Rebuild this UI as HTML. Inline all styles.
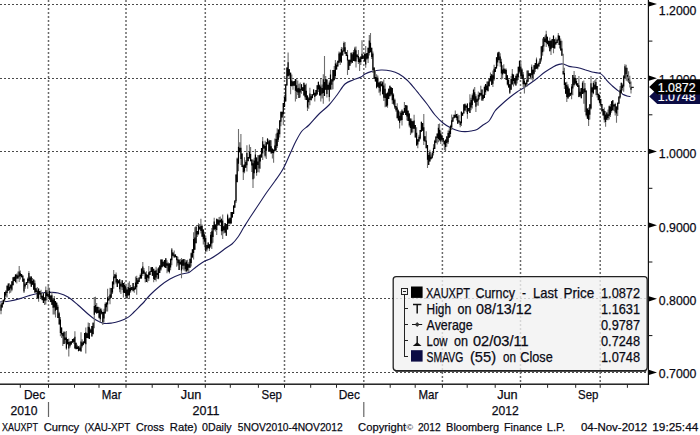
<!DOCTYPE html>
<html><head><meta charset="utf-8"><title>XAUXPT Curncy</title>
<style>html,body{margin:0;padding:0;background:#fff}body{width:700px;height:435px;overflow:hidden;position:relative;font-family:"Liberation Sans",sans-serif}</style></head>
<body>
<svg width="700" height="435" viewBox="0 0 700 435" style="position:absolute;left:0;top:0">
<rect width="700" height="435" fill="#fff"/>
<g stroke="#4a4a4a" stroke-width="1" stroke-dasharray="2 2" shape-rendering="crispEdges">
<line x1="0" y1="4" x2="648.4" y2="4"/>
<line x1="0" y1="78.2" x2="648.4" y2="78.2"/>
<line x1="0" y1="151.4" x2="648.4" y2="151.4"/>
<line x1="0" y1="225.2" x2="648.4" y2="225.2"/>
<line x1="0" y1="298.8" x2="648.4" y2="298.8"/>
<line x1="0" y1="372.4" x2="648.4" y2="372.4"/>
</g>
<g stroke="#6a6a6a" stroke-width="1.5" stroke-dasharray="2 2">
<line x1="48.5" y1="0" x2="48.5" y2="384.2"/>
<line x1="126" y1="0" x2="126" y2="384.2"/>
<line x1="205.3" y1="0" x2="205.3" y2="384.2"/>
<line x1="284.5" y1="0" x2="284.5" y2="384.2"/>
<line x1="363.8" y1="0" x2="363.8" y2="384.2"/>
<line x1="442.4" y1="0" x2="442.4" y2="384.2"/>
<line x1="520.5" y1="0" x2="520.5" y2="384.2"/>
<line x1="600.2" y1="0" x2="600.2" y2="384.2"/>
</g>
<path d="M0.0 302.0C1.7 301.8 6.7 301.6 10.0 301.0C13.3 300.4 16.7 299.5 20.0 298.6C23.3 297.7 26.7 296.3 30.0 295.4C33.3 294.5 36.7 293.5 40.0 293.0C43.3 292.5 47.0 292.4 50.0 292.4C53.0 292.4 55.0 292.2 58.0 293.0C61.0 293.8 64.7 295.0 68.0 297.0C71.3 299.0 74.7 302.2 78.0 305.0C81.3 307.8 85.0 311.5 88.0 314.0C91.0 316.5 93.3 318.4 96.0 320.0C98.7 321.6 101.3 322.9 104.0 323.4C106.7 323.9 109.3 323.4 112.0 323.0C114.7 322.6 117.3 321.9 120.0 321.0C122.7 320.1 125.7 318.9 128.0 317.4C130.3 315.9 132.0 313.9 134.0 312.0C136.0 310.1 138.3 307.7 140.0 306.0C141.7 304.3 142.3 303.8 144.0 302.0C145.7 300.2 147.3 297.7 150.0 295.0C152.7 292.3 156.7 288.7 160.0 286.0C163.3 283.3 166.7 280.9 170.0 279.0C173.3 277.1 176.8 275.5 180.0 274.4C183.2 273.3 186.3 273.6 189.0 272.4C191.7 271.2 193.5 268.8 196.0 267.0C198.5 265.2 201.7 262.7 204.0 261.4C206.3 260.1 207.7 260.2 210.0 259.0C212.3 257.8 215.3 255.8 218.0 254.0C220.7 252.2 223.7 249.7 226.0 248.0C228.3 246.3 230.0 245.8 232.0 244.0C234.0 242.2 236.0 239.8 238.0 237.0C240.0 234.2 241.8 230.5 244.0 227.0C246.2 223.5 248.5 219.8 251.0 216.0C253.5 212.2 256.3 208.0 259.0 204.0C261.7 200.0 264.3 195.8 267.0 192.0C269.7 188.2 272.3 184.8 275.0 181.0C277.7 177.2 280.5 173.5 283.0 169.0C285.5 164.5 287.8 158.7 290.0 154.0C292.2 149.3 294.0 144.8 296.0 141.0C298.0 137.2 299.8 133.7 302.0 131.0C304.2 128.3 306.2 127.8 309.0 125.0C311.8 122.2 315.7 117.3 319.0 114.0C322.3 110.7 326.0 108.2 329.0 105.0C332.0 101.8 334.3 98.5 337.0 95.0C339.7 91.5 342.3 86.5 345.0 84.0C347.7 81.5 350.3 81.2 353.0 80.0C355.7 78.8 359.0 78.0 361.0 77.0C363.0 76.0 363.3 74.9 365.0 74.0C366.7 73.1 368.3 72.3 371.0 71.6C373.7 70.9 377.7 70.1 381.0 70.0C384.3 69.9 388.0 70.3 391.0 71.0C394.0 71.7 396.3 72.5 399.0 74.0C401.7 75.5 404.3 77.5 407.0 80.0C409.7 82.5 413.0 86.7 415.0 89.0C417.0 91.3 417.0 91.5 419.0 94.0C421.0 96.5 424.3 100.5 427.0 104.0C429.7 107.5 432.3 111.8 435.0 115.0C437.7 118.2 440.3 120.8 443.0 123.0C445.7 125.2 448.3 126.7 451.0 128.0C453.7 129.3 456.7 130.4 459.0 131.0C461.3 131.6 463.0 131.6 465.0 131.6C467.0 131.6 469.0 131.4 471.0 131.0C473.0 130.6 475.0 130.4 477.0 129.4C479.0 128.4 481.0 126.4 483.0 125.0C485.0 123.6 487.0 123.3 489.0 121.0C491.0 118.7 493.0 113.7 495.0 111.0C497.0 108.3 498.7 107.2 501.0 105.0C503.3 102.8 506.3 100.2 509.0 98.0C511.7 95.8 514.3 93.8 517.0 92.0C519.7 90.2 522.0 89.0 525.0 87.0C528.0 85.0 531.7 82.5 535.0 80.0C538.3 77.5 542.0 74.2 545.0 72.0C548.0 69.8 550.7 68.3 553.0 67.0C555.3 65.7 557.3 64.9 559.0 64.4C560.7 63.9 561.3 63.7 563.0 64.0C564.7 64.3 566.7 65.8 569.0 66.4C571.3 67.0 574.3 66.9 577.0 67.5C579.7 68.1 582.5 69.0 585.0 69.8C587.5 70.5 589.8 71.5 592.0 72.0C594.2 72.5 596.6 72.7 598.0 73.0C599.4 73.3 599.5 73.0 600.5 73.6C601.5 74.2 602.7 75.3 603.8 76.5C604.9 77.7 605.8 79.3 607.2 80.9C608.6 82.5 610.7 84.4 612.4 86.0C614.1 87.6 615.9 88.9 617.6 90.3C619.3 91.7 621.2 93.3 622.8 94.3C624.4 95.2 625.7 95.6 627.0 96.0C628.3 96.4 629.9 96.4 630.5 96.5" fill="none" stroke="#1c1c58" stroke-width="1.1" stroke-linejoin="round"/>
<path d="M1 303V314.2M2.2 300.5V307.4M3.4 299.7V304.3M4.6 292V301.9M5.8 290.2V297.3M7.1 284.9V297.5M8.3 283.5V290.8M9.5 283.3V293.5M10.7 284.5V292.8M11.9 281.2V291.2M13.1 277.2V285.2M14.3 276.7V280.9M15.5 274.3V282.4M16.8 273.5V283.4M18 271.5V278.6M19.2 266V281.9M20.4 270.6V279.5M21.6 274V277.3M22.8 275.6V281.8M24 277.9V293M25.2 282.8V288.8M26.4 282.1V284.9M27.7 277.6V288.7M28.9 270.9V283M30.1 276V284.3M31.3 276.4V286.8M32.5 278V284.7M33.7 279.4V289.8M34.9 280.4V292.9M36.1 288.2V292.4M37.3 287.1V298.9M38.6 288.6V301.7M39.8 291V294.6M41 289.7V297.7M42.2 295.7V300.6M43.4 292V302.9M44.6 296.9V304.9M45.8 286.4V304.5M47 290V300.3M48.2 284V297M49.5 287.8V299.8M50.7 295.5V302.2M51.9 292.1V304.9M53.1 299.1V314.4M54.3 296.1V314.6M55.5 300.9V317.5M56.7 302V310.1M57.9 304.7V317.9M59.2 311.8V324.5M60.4 317.1V336.3M61.6 327.5V338M62.8 333.1V345.9M64 331.6V344.1M65.2 331.8V343.5M66.4 330.9V349.8M67.6 339V344.2M68.8 338.4V356.4M70.1 341.4V347.5M71.3 341.2V345M72.5 339V342.9M73.7 338.5V343.7M74.9 331.2V348.4M76.1 342.8V349.2M77.3 344.7V349.1M78.5 346.2V351.4M79.8 345.6V351.1M81 332.2V351.5M82.2 339.2V347.4M83.4 340.9V345.3M84.6 333.1V343.2M85.8 327.5V353.5M87 333.2V338.1M88.2 322.5V338.3M89.4 323V339M90.7 328.5V332.8M91.9 326.1V336.6M93.1 322.6V334.6M94.3 297V328.3M95.5 296.8V312.6M96.7 302.9V313.5M97.9 306.5V313M99.1 307V318.4M100.3 307.8V322.6M101.6 308.6V314.5M102.8 312.1V325M104 308.8V322.1M105.2 302.4V313.6M106.4 302.4V311.5M107.6 288.7V311.4M108.8 296V300.6M110 287.8V304.3M111.2 288V297.7M112.5 281.6V293.9M113.7 270V288.7M114.9 274.3V278.6M116.1 272.6V284.2M117.3 278.9V287.1M118.5 280.1V283.5M119.7 279.2V292.3M120.9 282.3V294.1M122.2 280.2V289.9M123.4 282.9V297.4M124.6 282V293.1M125.8 286.2V297.4M127 289.5V298.6M128.2 282.8V295.4M129.4 281.2V298.3M130.6 284.9V292.8M131.8 286.9V289.9M133.1 282.9V291.2M134.3 286V292.8M135.5 276.5V289.7M136.7 275.7V294.8M137.9 278.3V284.1M139.1 277.4V281.9M140.3 273.5V278.8M141.5 268.6V278.6M142.8 262V276M144 268.1V274M145.2 272.5V282.6M146.4 271.3V282.1M147.6 274.8V282.5M148.8 266V281M150 271.2V275M151.2 267.3V272.1M152.4 266.9V276.1M153.7 268.8V282.3M154.9 270.8V280.1M156.1 266.8V281.6M157.3 268.4V278.9M158.5 267V279.3M159.7 265.5V273.1M160.9 259.5V270.7M162.1 259.6V267.3M163.3 260.7V266.3M164.6 260.1V267.2M165.8 258.2V267.9M167 260.3V273.3M168.2 262.2V271.4M169.4 262.9V273.5M170.6 258.8V270.2M171.8 248.1V265.3M173 252.5V256.3M174.2 250.4V257.4M175.5 254.4V257.2M176.7 256.1V266.8M177.9 256.8V265.5M179.1 259.5V269.9M180.3 259.1V264.6M181.5 258V278.2M182.7 259.5V269.2M183.9 259V270.5M185.2 259.6V271.5M186.4 259.9V271.6M187.6 259.7V271.6M188.8 262.3V271.9M190 258.8V267.8M191.2 252.6V266.5M192.4 249.3V257.9M193.6 232.2V259.5M194.8 227.3V249.7M196.1 226.6V243.2M197.3 230.9V236.9M198.5 223.3V235.3M199.7 224V229.6M200.9 218.7V233.4M202.1 224.5V236.7M203.3 229.4V244.4M204.5 231.8V247.5M205.7 235.4V251.4M207 245V251.5M208.2 242.5V248.5M209.4 244.3V250.9M210.6 232.1V247.7M211.8 228.1V248.9M213 225V242.8M214.2 217.7V230.3M215.4 224.6V231.5M216.7 218.7V235M217.9 219.4V224.8M219.1 217V225.6M220.3 216.6V222.6M221.5 218.8V235.2M222.7 214.4V239.1M223.9 226.3V233.5M225.1 222.9V233.1M226.3 224V235.7M227.6 213.8V229.5M228.8 217.8V223.6M230 217.3V224.6M231.2 212.1V223.5M232.4 211.9V217.5M233.6 205.5V214.1M234.8 200.4V207.8M236 174.5V203M237.2 157.6V182.5M238.5 129V171.2M239.7 142.3V152.3M240.9 134V165M242.1 153.6V167M243.3 164.6V180M244.5 157.2V173.3M245.7 160.3V167.8M246.9 145.2V171.5M248.2 156.9V161.6M249.4 144.5V158.6M250.6 147.1V161.3M251.8 159.5V172.1M253 159.5V188M254.2 157.8V178.4M255.4 149V169.2M256.6 157.6V175.7M257.8 154.9V171.9M259.1 155.3V172.6M260.3 154.6V168.7M261.5 147.9V157.4M262.7 137V159.9M263.9 144.5V148.4M265.1 140.7V157.4M266.3 142.2V159.1M267.5 138V144.3M268.8 139.4V150.9M270 139.9V151.7M271.2 140.3V153.4M272.4 148V158.5M273.6 149.3V162.8M274.8 138.4V151.2M276 133.7V150.6M277.2 128.2V148M278.4 129.4V141.9M279.7 120V137.5M280.9 111.7V126.2M282.1 111.7V117.5M283.3 103.1V125M284.5 94.7V106.9M285.7 84.2V101.5M286.9 67.6V85.5M288.1 52.6V76.3M289.3 69.1V78.5M290.6 72.6V94.3M291.8 74.5V86.3M293 81.6V89.7M294.2 80.9V85.8M295.4 79V101.5M296.6 79.2V99.1M297.8 80.6V95.1M299 83.8V98.1M300.2 82.4V97.6M301.5 84.3V93.7M302.7 87.3V91.1M303.9 82.8V95.4M305.1 84.8V99.7M306.3 83.4V100M307.5 95.6V111M308.7 96.9V108.7M309.9 87.7V105.3M311.2 93.9V100.3M312.4 94.2V98.6M313.6 89.1V95.3M314.8 92.7V101.6M316 90.1V95.7M317.2 85.2V94.4M318.4 81.7V92M319.6 84.6V95.6M320.8 79.1V101.6M322.1 84.4V98.6M323.3 74.3V103.8M324.5 56V95.9M325.7 75.9V89.7M326.9 79.6V97.4M328.1 84.8V89.7M329.3 80.5V101.5M330.5 69.8V89.4M331.8 79.2V89.7M333 69.9V89.3M334.2 66V80.2M335.4 60.1V78.9M336.6 62.5V69.7M337.8 60.8V66.5M339 51.5V62.7M340.2 52.4V64.9M341.4 46.9V63M342.7 47.5V55.4M343.9 41.4V51.4M345.1 42V53.8M346.3 52V55.9M347.5 49.9V75M348.7 59.7V70.1M349.9 59.8V65.8M351.1 52.7V64M352.3 52.2V63.1M353.6 49.9V61.1M354.8 46.8V61.2M356 46.4V67.6M357.2 54.6V58.6M358.4 50V63.9M359.6 57.1V71M360.8 56.5V65.1M362 40.2V58.9M363.2 55.6V59.3M364.5 53.8V61.7M365.7 45.9V67.8M366.9 53.1V59.7M368.1 47.2V63.1M369.3 34.9V55.4M370.5 33V52.3M371.7 47.8V59.1M372.9 51.5V73M374.2 67.4V78.7M375.4 69.9V81.6M376.6 74.3V88.5M377.8 75.5V86.8M379 82.6V92.7M380.2 81.6V95.5M381.4 80.9V86.3M382.6 81.2V94.2M383.8 79.5V101.1M385.1 83.6V107.2M386.3 93.6V106.5M387.5 91.7V107.7M388.7 88.3V99M389.9 85.7V96.3M391.1 87.2V95.8M392.3 88V104M393.5 93.3V105.3M394.8 98.6V109M396 106.1V111.7M397.2 103.3V118.2M398.4 109.4V121M399.6 111.4V128.5M400.8 111.2V120.5M402 109.3V125.5M403.2 111.6V115M404.4 102V112.7M405.7 105.1V115.1M406.9 105.4V120.5M408.1 110.5V121.1M409.3 113.6V127.2M410.5 118.1V135M411.7 118.6V133.4M412.9 121.2V132.6M414.1 114.7V128.7M415.3 124.9V137.5M416.6 127.2V145.9M417.8 139.3V148.3M419 134.8V141.6M420.2 129.9V139.4M421.4 121.8V131.7M422.6 123V130.8M423.8 114V145M425 136.3V141.4M426.2 131.2V148.3M427.5 144.9V168M428.7 152.8V165.1M429.9 149.7V161.6M431.1 154.5V159.3M432.3 152.4V158.4M433.5 144.3V155.5M434.7 139.8V148.9M435.9 136.5V142.8M437.2 133.5V144.6M438.4 123.9V142.2M439.6 123.5V141.3M440.8 130.5V144.1M442 134.7V140.7M443.2 137.9V144.2M444.4 140.7V150.2M445.6 139.3V151M446.8 136.1V146.7M448.1 130.5V144M449.3 128.2V137.8M450.5 124.8V136.9M451.7 114.5V130.1M452.9 117.2V121.8M454.1 114.8V118.2M455.3 110.4V117.4M456.5 114.1V120.5M457.7 113.8V123.8M459 115.1V123.3M460.2 121.5V127.2M461.4 110.9V126M462.6 112.8V115.7M463.8 103.9V113.5M465 103.7V110.7M466.2 105.6V112.3M467.4 103.6V118.8M468.7 107.9V111.4M469.9 94.3V112.9M471.1 97.8V110.2M472.3 93.6V108.4M473.5 88.8V101M474.7 87.1V102.4M475.9 94.2V112M477.1 98.2V105.4M478.3 91.6V105.7M479.6 92.7V99.6M480.8 85.8V95.5M482 89.6V100.7M483.2 94.8V100.8M484.4 85.6V97.9M485.6 83.9V94.9M486.8 81.4V90.2M488 81.4V91.3M489.2 78.5V86.7M490.5 72.6V81.7M491.7 74.2V85.1M492.9 70.6V86.9M494.1 64.8V80.7M495.3 67V72M496.5 57.3V68.5M497.7 52.1V66.2M498.9 51.5V60.6M500.2 53.2V66.7M501.4 58.8V79.6M502.6 65.3V78.7M503.8 64.2V73.5M505 68.6V73.8M506.2 68.4V80M507.4 75.2V85.6M508.6 79V87.9M509.8 84.3V94M511.1 76.1V89.8M512.3 69.1V84.8M513.5 74.4V86.6M514.7 78V84.6M515.9 74.5V85.4M517.1 72.9V83.4M518.3 66.8V80.1M519.5 60.7V73.3M520.8 60.9V77.8M522 68.3V78.9M523.2 72.1V87.1M524.4 78.7V93.5M525.6 82.8V86.2M526.8 70.5V86.9M528 70.5V81.8M529.2 73.3V76M530.4 73.2V79.2M531.7 64.5V79.5M532.9 69.4V80.9M534.1 64.9V74.4M535.3 63.1V71.9M536.5 57.5V68.7M537.7 63.5V69.5M538.9 61.6V66.9M540.1 58.5V63.8M541.3 46.3V61.5M542.6 38.6V55.8M543.8 36.9V51.6M545 35.6V42M546.2 30.7V47M547.4 36.8V44.3M548.6 40.8V47.4M549.8 37.5V51.3M551 40.6V55M552.2 38.9V47.8M553.5 35V53.3M554.7 39.3V48.5M555.9 37.5V44.6M557.1 39.6V43M558.3 33V44.9M559.5 35.8V48.4M560.7 38.4V50.4M561.9 40.8V55.8M563.2 53.8V75.1M564.4 67.7V89M565.6 82.6V93.8M566.8 81.8V102M568 84.3V98.5M569.2 88.5V96.7M570.4 92.4V95.8M571.6 83.9V99.2M572.8 75V95.3M574.1 71.1V86.4M575.3 75V84.6M576.5 78.1V85.4M577.7 83.2V86.9M578.9 76.1V97.2M580.1 88.6V96.9M581.3 88.1V98.3M582.5 81.3V93.9M583.8 80.6V103.7M585 83V112M586.2 90.6V116.4M587.4 108.4V118.8M588.6 107.4V126M589.8 104.3V119.6M591 76V109.5M592.2 86.7V96.9M593.4 81.2V94.2M594.7 80.3V89.4M595.9 78.8V95.3M597.1 86.1V97.4M598.3 93.8V100.4M599.5 94.8V103.7M600.7 98.8V106.7M601.9 104V112.2M603.1 108.9V115.6M604.3 107.6V122.6M605.6 111.1V126.7M606.8 112.6V119.7M608 109.6V120.3M609.2 105.6V119.4M610.4 104V117M611.6 100.9V112.7M612.8 100.1V110.2M614 104.6V111.1M615.2 102.7V115.4M616.5 106.5V122.8M617.7 102.6V115.9M618.9 96.5V103.8M620.1 86V98.8M621.3 82.8V93.9M622.5 83.4V90.5M623.7 74.9V91.8M624.9 64.2V78.7M626.2 64.8V80.7M627.4 67.7V81.5M628.6 71.2V82.9M629.8 75.7V87.5M631 81.6V93.4" stroke="#6e6e6e" stroke-width="1.1" fill="none"/>
<path d="M1 304.5V310.8M2.2 303.1V307.4M3.4 299.7V304.3M4.6 292V300.5M5.8 291.4V295.4M7.1 286.1V293.1M8.3 283.5V290.8M9.5 286.8V290.1M10.7 284.7V288.5M11.9 281.2V289.8M13.1 277.2V285.2M14.3 276.7V280.9M15.5 274.6V281.9M16.8 274.8V278.7M18 275.6V278.6M19.2 271.6V276.8M20.4 273.2V276.3M21.6 274V277.3M22.8 275.6V281.8M24 279V291.6M25.2 284.2V286.5M26.4 282.1V284.9M27.7 278.7V283.1M28.9 273.1V281.3M30.1 277.5V283.6M31.3 276.4V286.8M32.5 280.9V284.7M33.7 279.4V289.8M34.9 283.2V292.6M36.1 288.2V292M37.3 290.5V298.3M38.6 288.6V298.7M39.8 291V294.6M41 293.1V297.7M42.2 295.7V300.1M43.4 293.2V302.9M44.6 297.4V300.7M45.8 290.3V300.5M47 292.5V295.9M48.2 294V297M49.5 291V299.4M50.7 295.5V302.1M51.9 295.3V304.8M53.1 299.5V307.8M54.3 298.4V307.5M55.5 300.9V310.8M56.7 303.1V309.7M57.9 306.7V317.9M59.2 313.2V324.5M60.4 319.6V333M61.6 327.5V334.4M62.8 333.1V336.3M64 331.7V344.1M65.2 337.4V339.9M66.4 337.4V348.4M67.6 339V344.2M68.8 341.9V348.6M70.1 341.5V345.8M71.3 341.2V344.3M72.5 339V342.4M73.7 338.5V342.1M74.9 336.7V348.4M76.1 342.8V349.2M77.3 346.5V349.1M78.5 346.2V351.1M79.8 347.6V350.5M81 341.4V351.5M82.2 342.4V346.1M83.4 341.7V344.7M84.6 333.1V343.2M85.8 332.3V344.2M87 333.2V338.1M88.2 326.8V338.3M89.4 327.3V339M90.7 329.6V332.8M91.9 326.1V336.6M93.1 322.7V333.9M94.3 306.1V314.7M95.5 304.9V312.6M96.7 307V313.4M97.9 307V313M99.1 310.3V317.7M100.3 309V319.2M101.6 310.5V313.8M102.8 312.1V322.2M104 311.8V318.6M105.2 303.9V313.6M106.4 302.4V307.2M107.6 297.3V304.6M108.8 298.4V300.6M110 294.6V299.1M111.2 288V297.7M112.5 281.6V292.6M113.7 276.6V284.4M114.9 274.3V278.1M116.1 274.7V282.5M117.3 278.9V287.1M118.5 280.6V283.3M119.7 279.2V289.2M120.9 283.7V286.4M122.2 280.3V287.3M123.4 282.9V292.7M124.6 285V293.1M125.8 286.2V296.1M127 289.5V298.6M128.2 286.9V295.4M129.4 287.9V295.3M130.6 287.5V291.3M131.8 286.9V289.9M133.1 283.1V291.2M134.3 287.4V290.1M135.5 282.4V288.9M136.7 277.9V287.2M137.9 280.3V284.1M139.1 277.4V281.9M140.3 275.1V278.6M141.5 268.6V278.6M142.8 266.6V274.1M144 270.6V273.5M145.2 272.5V279.1M146.4 274.2V282.1M147.6 274.8V277.8M148.8 272.2V278.4M150 271.2V275M151.2 267.3V272.1M152.4 266.9V275.7M153.7 268.8V279.1M154.9 270.8V280.1M156.1 270.2V277.6M157.3 273.1V275.1M158.5 268.2V278.6M159.7 265.5V273.1M160.9 259.5V269.4M162.1 259.6V267.2M163.3 262.1V266.3M164.6 260.1V267.2M165.8 258.2V267.9M167 263.3V265.8M168.2 263.4V271.4M169.4 263.4V272.2M170.6 258.8V267.5M171.8 249.6V260.2M173 252.5V255.7M174.2 254.4V257.4M175.5 254.4V257.2M176.7 256.1V260.3M177.9 259.3V263.3M179.1 259.8V269.9M180.3 261.7V264.6M181.5 260.2V270.6M182.7 259.5V265.7M183.9 259V265.7M185.2 262.5V269.3M186.4 261.5V271.5M187.6 263.7V270.3M188.8 264.2V267.8M190 258.8V267.8M191.2 253.3V263M192.4 249.3V257.2M193.6 239V252.9M194.8 237.4V249.7M196.1 226.6V243.2M197.3 230.9V234.4M198.5 225.6V234.1M199.7 226.7V229.6M200.9 226.1V231.1M202.1 225.9V236.7M203.3 229.4V239.3M204.5 234.6V241.8M205.7 238V251.4M207 245V249.6M208.2 242.5V247.9M209.4 244.3V248.7M210.6 234.7V246.6M211.8 231.2V243.4M213 225V237M214.2 221.6V229.5M215.4 224.6V229.2M216.7 218.7V230M217.9 219.4V224.8M219.1 220.2V225.4M220.3 220V222.6M221.5 218.8V231.3M222.7 220.6V231.3M223.9 226.3V230.2M225.1 222.9V232.5M226.3 224V235.7M227.6 215.2V229.5M228.8 219.2V223.6M230 218V223.5M231.2 212.1V223.5M232.4 211.9V217.5M233.6 205.5V214.1M234.8 200.4V207.8M236 174.5V201.3M237.2 158.5V182M238.5 146.8V163.7M239.7 147.7V152.3M240.9 147.7V158.9M242.1 153.6V167M243.3 165.5V172.2M244.5 164.6V171.6M245.7 162V167.8M246.9 153.1V165.3M248.2 156.9V160.9M249.4 151.3V158.6M250.6 154V161.3M251.8 159.5V165.4M253 163.3V179.2M254.2 160.5V173.3M255.4 154.4V169.2M256.6 157.6V172.9M257.8 161.4V165.1M259.1 155.3V168.5M260.3 154.6V161.6M261.5 147.9V157.4M262.7 141.3V153.6M263.9 144.5V148.4M265.1 146.1V155.8M266.3 142.2V150.7M267.5 138.7V144.3M268.8 141.2V150.9M270 140.3V151.7M271.2 146.3V153.4M272.4 149.1V153M273.6 149.8V153.2M274.8 145.6V151.2M276 139V150.6M277.2 132.8V146M278.4 129.4V139.7M279.7 120.6V134.2M280.9 111.7V121.8M282.1 111.7V117.5M283.3 103.1V114.3M284.5 96.7V106.9M285.7 84.2V101.5M286.9 67.6V85.5M288.1 62.2V76.3M289.3 69.3V75.4M290.6 72.7V86M291.8 80.4V86.3M293 81.6V85.7M294.2 80.9V85.8M295.4 79V90.8M296.6 85.2V91.8M297.8 88.2V92.5M299 87.7V98.1M300.2 88.7V92.6M301.5 84.3V90.3M302.7 87.3V91.1M303.9 82.8V95.4M305.1 84.8V97.3M306.3 90.7V100M307.5 95.6V107.5M308.7 98.2V102.3M309.9 93.5V100M311.2 96.2V100.3M312.4 94.2V98M313.6 89.8V95.3M314.8 92.7V97M316 90.1V95.7M317.2 85.2V94.4M318.4 81.7V89.5M319.6 85.2V95.6M320.8 86.5V95.5M322.1 88.1V93.8M323.3 79.3V93M324.5 81.9V95.9M325.7 79.1V89.7M326.9 79.6V94.1M328.1 84.8V89.7M329.3 82.6V96.9M330.5 74.5V89.4M331.8 79.2V84.7M333 70V81.6M334.2 70.1V80.2M335.4 63.6V76M336.6 64.7V69.5M337.8 60.8V66.5M339 53.5V62.7M340.2 52.4V61.6M341.4 49.1V62.3M342.7 50.4V55.4M343.9 43V51.4M345.1 47.3V53.8M346.3 52V55.9M347.5 54.8V60.5M348.7 59.7V70.1M349.9 59.8V65.8M351.1 52.8V62.2M352.3 54.2V62.8M353.6 52.3V61.1M354.8 48.4V61.2M356 50.2V61.5M357.2 54.6V57.1M358.4 56.1V62M359.6 58.6V62.6M360.8 56.5V61.9M362 53.8V58.9M363.2 55.6V58.8M364.5 53.8V61.6M365.7 53.7V64.4M366.9 53.1V58.8M368.1 47.9V58.5M369.3 40.6V52.9M370.5 42.7V52.3M371.7 47.8V57M372.9 53.4V69.9M374.2 67.6V78.7M375.4 76.9V81.6M376.6 77.2V87.7M377.8 77.8V86.8M379 82.6V87.9M380.2 81.6V91.6M381.4 83.8V86.3M382.6 82.3V94.2M383.8 85.5V97.8M385.1 88.8V97.9M386.3 93.6V106.5M387.5 93.1V105.4M388.7 89V98.9M389.9 85.7V96.3M391.1 87.2V94.5M392.3 88V100.2M393.5 94.4V103.8M394.8 99.7V107.6M396 106.1V110.2M397.2 107.5V118.2M398.4 110.5V120.3M399.6 115.7V122.8M400.8 112.7V120.5M402 110.5V120M403.2 111.6V115M404.4 107.9V112.7M405.7 105.1V115.1M406.9 105.4V116.4M408.1 110.8V121.1M409.3 113.6V125.6M410.5 119.3V128.1M411.7 120.8V132.6M412.9 121.2V128.8M414.1 120.4V128.7M415.3 124.9V137.5M416.6 132.7V145.3M417.8 139.3V144.5M419 136.8V141.6M420.2 129.9V138.5M421.4 121.8V131.7M422.6 123V130.8M423.8 127.2V140.7M425 136.3V141.4M426.2 140.4V148.3M427.5 144.9V159.8M428.7 154.9V165.1M429.9 152.1V161.5M431.1 156.7V159.3M432.3 152.4V157.7M433.5 147.8V153.1M434.7 140.8V148.9M435.9 136.5V142.8M437.2 133.5V138M438.4 127.8V138.9M439.6 129.7V140M440.8 133.5V141.4M442 135.4V139.8M443.2 137.9V141.4M444.4 140.7V144.5M445.6 139.8V147.1M446.8 136.6V143.1M448.1 132.9V142.2M449.3 130.7V137.8M450.5 126V133.9M451.7 120.2V127.6M452.9 117.5V121.8M454.1 114.8V118.2M455.3 114.7V117.4M456.5 114.1V117.9M457.7 116.3V123.8M459 120.2V122.2M460.2 121.5V125M461.4 112.1V123.3M462.6 112.8V115.7M463.8 104.4V113.5M465 103.7V110.6M466.2 105.6V107.8M467.4 103.6V114.1M468.7 107.9V111.3M469.9 102.5V112.9M471.1 99.9V107.6M472.3 95.2V104.9M473.5 90.1V99.8M474.7 92.2V102.4M475.9 96.3V106.8M477.1 99.3V102M478.3 94.8V100.4M479.6 92.7V96.7M480.8 93V95.5M482 89.6V100.6M483.2 94.8V99M484.4 87V97.9M485.6 83.9V92.2M486.8 85.4V90.2M488 81.4V91.3M489.2 78.6V86M490.5 76V80.8M491.7 74.2V84.9M492.9 75.3V83.8M494.1 68.7V79.2M495.3 67V72M496.5 57.3V68.5M497.7 53.2V62.6M498.9 52.1V60.1M500.2 56.4V63.3M501.4 61.7V73.4M502.6 69.5V74.6M503.8 68.5V73.2M505 69.3V73.8M506.2 70V80M507.4 75.2V84.4M508.6 80.1V87.3M509.8 84.3V92.8M511.1 79.1V89.8M512.3 73.7V84.2M513.5 74.4V81.1M514.7 78V83.4M515.9 76.1V85.4M517.1 74.1V80.4M518.3 66.8V77.2M519.5 60.7V71.7M520.8 66.4V75.9M522 69.4V78.9M523.2 74.4V84.3M524.4 80.7V84.3M525.6 82.8V85.7M526.8 80.3V84.2M528 70.5V81.8M529.2 73.3V76M530.4 73.2V77.4M531.7 66.7V75.2M532.9 69.7V77.9M534.1 65.2V73.8M535.3 63.1V69.2M536.5 59.4V68.7M537.7 64.3V68.6M538.9 63.1V66.2M540.1 58.5V63.8M541.3 46.3V59.6M542.6 45.4V52.2M543.8 36.9V46.4M545 38.5V42M546.2 34.3V42.9M547.4 36.8V44.3M548.6 40.8V46M549.8 40.9V51.3M551 40.6V49.2M552.2 38.9V47.8M553.5 35.9V48.1M554.7 39.3V48.5M555.9 42V44.6M557.1 39.6V43M558.3 35.3V40.6M559.5 35.8V44.9M560.7 40.7V50.4M561.9 48.4V55.8M563.2 71.1V74M564.4 72.9V85M565.6 82.6V93.8M566.8 85V97M568 86.5V98.5M569.2 88.5V96.7M570.4 92.9V95.8M571.6 86.5V94.4M572.8 75V88.5M574.1 77.5V84.9M575.3 78V83.4M576.5 81V85.4M577.7 83.2V86.9M578.9 85.3V97M580.1 91.8V95.7M581.3 88.1V98.3M582.5 82.8V93.9M583.8 88.7V93.6M585 88.2V92.3M586.2 90.6V115.3M587.4 108.6V118.8M588.6 110V120M589.8 104.3V114.7M591 83.2V108.6M592.2 87.5V92.6M593.4 83.1V93.2M594.7 84.6V89.4M595.9 82.1V89.5M597.1 86.1V95.1M598.3 93.8V99.9M599.5 94.8V102.8M600.7 99.1V105.3M601.9 104V111M603.1 108.9V115.6M604.3 110.7V119.8M605.6 114.5V122.1M606.8 112.6V119.7M608 114.3V118M609.2 106.2V116M610.4 106.6V114.8M611.6 101.3V111M612.8 100.3V110.2M614 104.6V106.6M615.2 103.9V112.4M616.5 106.5V113.5M617.7 102.8V109.7M618.9 96.5V103.8M620.1 89.7V97.6M621.3 82.8V93.1M622.5 85.3V88M623.7 76.3V86.4M624.9 66.2V78M626.2 67.8V74.3M627.4 74.9V76.7M628.6 78.4V80.2M629.8 82.1V83.9M631 88V89.8" stroke="#000" stroke-width="1.15" fill="none"/>
<path d="M630.6 87.4H633.8M628 81H630.4" stroke="#222" stroke-width="1.1" fill="none"/>
<rect x="0" y="383.5" width="649.1" height="1.4" fill="#111"/>
<rect x="647.8" y="0" width="1.2" height="384.9" fill="#111"/>
<g stroke="#222" stroke-width="1">
<line x1="20.3" y1="384.2" x2="20.3" y2="387.8"/>
<line x1="48.5" y1="384.2" x2="48.5" y2="387.8"/>
<line x1="74.5" y1="384.2" x2="74.5" y2="387.8"/>
<line x1="99" y1="384.2" x2="99" y2="387.8"/>
<line x1="126" y1="384.2" x2="126" y2="387.8"/>
<line x1="152.2" y1="384.2" x2="152.2" y2="387.8"/>
<line x1="178.3" y1="384.2" x2="178.3" y2="387.8"/>
<line x1="205.3" y1="384.2" x2="205.3" y2="387.8"/>
<line x1="230.3" y1="384.2" x2="230.3" y2="387.8"/>
<line x1="258.4" y1="384.2" x2="258.4" y2="387.8"/>
<line x1="284.5" y1="384.2" x2="284.5" y2="387.8"/>
<line x1="310.7" y1="384.2" x2="310.7" y2="387.8"/>
<line x1="336.5" y1="384.2" x2="336.5" y2="387.8"/>
<line x1="363.8" y1="384.2" x2="363.8" y2="387.8"/>
<line x1="390.2" y1="384.2" x2="390.2" y2="387.8"/>
<line x1="415.2" y1="384.2" x2="415.2" y2="387.8"/>
<line x1="442.4" y1="384.2" x2="442.4" y2="387.8"/>
<line x1="467.2" y1="384.2" x2="467.2" y2="387.8"/>
<line x1="495.2" y1="384.2" x2="495.2" y2="387.8"/>
<line x1="520.5" y1="384.2" x2="520.5" y2="387.8"/>
<line x1="547.6" y1="384.2" x2="547.6" y2="387.8"/>
<line x1="575.7" y1="384.2" x2="575.7" y2="387.8"/>
<line x1="600.2" y1="384.2" x2="600.2" y2="387.8"/>
<line x1="627.4" y1="384.2" x2="627.4" y2="387.8"/>
</g>
<g stroke="#666" stroke-width="1.2">
<line x1="48.5" y1="402" x2="48.5" y2="417"/>
<line x1="363.8" y1="402" x2="363.8" y2="417"/>
</g>
<path d="M648.8 1.4L657 4L648.8 6.6Z" fill="#000"/>
<path d="M648.8 75.6L657 78.2L648.8 80.8Z" fill="#000"/>
<path d="M648.8 148.8L657 151.4L648.8 154Z" fill="#000"/>
<path d="M648.8 222.6L657 225.2L648.8 227.8Z" fill="#000"/>
<path d="M648.8 296.2L657 298.8L648.8 301.4Z" fill="#000"/>
<path d="M648.8 369.8L657 372.4L648.8 375Z" fill="#000"/>
<g stroke="#111" stroke-width="1">
<line x1="648.4" y1="335.6" x2="652.4" y2="335.6"/>
<line x1="648.4" y1="262" x2="652.4" y2="262"/>
<line x1="648.4" y1="188.3" x2="652.4" y2="188.3"/>
<line x1="648.4" y1="114.8" x2="652.4" y2="114.8"/>
<line x1="648.4" y1="41.1" x2="652.4" y2="41.1"/>
</g>
<text x="658.8" y="14.8" font-family="Liberation Sans, sans-serif" font-size="13.4" fill="#0a0a14" stroke="#0a0a14" stroke-width="0.25" textLength="37.6" lengthAdjust="spacingAndGlyphs">1.2000</text>
<text x="658.8" y="83.9" font-family="Liberation Sans, sans-serif" font-size="13.4" fill="#0a0a14" stroke="#0a0a14" stroke-width="0.25" textLength="37.6" lengthAdjust="spacingAndGlyphs">1.1000</text>
<text x="658.8" y="157.9" font-family="Liberation Sans, sans-serif" font-size="13.4" fill="#0a0a14" stroke="#0a0a14" stroke-width="0.25" textLength="37.6" lengthAdjust="spacingAndGlyphs">1.0000</text>
<text x="658.8" y="231.6" font-family="Liberation Sans, sans-serif" font-size="13.4" fill="#0a0a14" stroke="#0a0a14" stroke-width="0.25" textLength="37.6" lengthAdjust="spacingAndGlyphs">0.9000</text>
<text x="658.8" y="305.2" font-family="Liberation Sans, sans-serif" font-size="13.4" fill="#0a0a14" stroke="#0a0a14" stroke-width="0.25" textLength="37.6" lengthAdjust="spacingAndGlyphs">0.8000</text>
<text x="658.8" y="377.9" font-family="Liberation Sans, sans-serif" font-size="13.4" fill="#0a0a14" stroke="#0a0a14" stroke-width="0.25" textLength="37.6" lengthAdjust="spacingAndGlyphs">0.7000</text>
<text x="24" y="398.5" font-family="Liberation Sans, sans-serif" font-size="12.8" fill="#0a0a14" stroke="#0a0a14" stroke-width="0.25" textLength="21.2" lengthAdjust="spacingAndGlyphs">Dec</text>
<text x="101.8" y="398.5" font-family="Liberation Sans, sans-serif" font-size="12.8" fill="#0a0a14" stroke="#0a0a14" stroke-width="0.25" textLength="19.8" lengthAdjust="spacingAndGlyphs">Mar</text>
<text x="180.8" y="398.5" font-family="Liberation Sans, sans-serif" font-size="12.8" fill="#0a0a14" stroke="#0a0a14" stroke-width="0.25" textLength="20.5" lengthAdjust="spacingAndGlyphs">Jun</text>
<text x="261.5" y="398.5" font-family="Liberation Sans, sans-serif" font-size="12.8" fill="#0a0a14" stroke="#0a0a14" stroke-width="0.25" textLength="20.4" lengthAdjust="spacingAndGlyphs">Sep</text>
<text x="338.7" y="398.5" font-family="Liberation Sans, sans-serif" font-size="12.8" fill="#0a0a14" stroke="#0a0a14" stroke-width="0.25" textLength="21.2" lengthAdjust="spacingAndGlyphs">Dec</text>
<text x="418.5" y="398.5" font-family="Liberation Sans, sans-serif" font-size="12.8" fill="#0a0a14" stroke="#0a0a14" stroke-width="0.25" textLength="19.8" lengthAdjust="spacingAndGlyphs">Mar</text>
<text x="497.2" y="398.5" font-family="Liberation Sans, sans-serif" font-size="12.8" fill="#0a0a14" stroke="#0a0a14" stroke-width="0.25" textLength="20.5" lengthAdjust="spacingAndGlyphs">Jun</text>
<text x="578" y="398.5" font-family="Liberation Sans, sans-serif" font-size="12.8" fill="#0a0a14" stroke="#0a0a14" stroke-width="0.25" textLength="20.4" lengthAdjust="spacingAndGlyphs">Sep</text>
<text x="10.5" y="414.5" font-family="Liberation Sans, sans-serif" font-size="12.8" fill="#0a0a14" stroke="#0a0a14" stroke-width="0.25" textLength="27" lengthAdjust="spacingAndGlyphs">2010</text>
<text x="192.5" y="414.5" font-family="Liberation Sans, sans-serif" font-size="12.8" fill="#0a0a14" stroke="#0a0a14" stroke-width="0.25" textLength="27" lengthAdjust="spacingAndGlyphs">2011</text>
<text x="491.8" y="414.5" font-family="Liberation Sans, sans-serif" font-size="12.8" fill="#0a0a14" stroke="#0a0a14" stroke-width="0.25" textLength="27" lengthAdjust="spacingAndGlyphs">2012</text>
<text x="2" y="430.9" font-family="Liberation Sans, sans-serif" font-size="11.8" fill="#0a0a14" stroke="#0a0a14" stroke-width="0.25" textLength="36" lengthAdjust="spacingAndGlyphs">XAUXPT</text>
<text x="43.7" y="430.9" font-family="Liberation Sans, sans-serif" font-size="11.8" fill="#0a0a14" stroke="#0a0a14" stroke-width="0.25" textLength="35.5" lengthAdjust="spacingAndGlyphs">Curncy</text>
<text x="84.4" y="430.9" font-family="Liberation Sans, sans-serif" font-size="11.8" fill="#0a0a14" stroke="#0a0a14" stroke-width="0.25" textLength="45.8" lengthAdjust="spacingAndGlyphs">(XAU-XPT</text>
<text x="135.9" y="430.9" font-family="Liberation Sans, sans-serif" font-size="11.8" fill="#0a0a14" stroke="#0a0a14" stroke-width="0.25" textLength="28.2" lengthAdjust="spacingAndGlyphs">Cross</text>
<text x="169.8" y="430.9" font-family="Liberation Sans, sans-serif" font-size="11.8" fill="#0a0a14" stroke="#0a0a14" stroke-width="0.25" textLength="27.5" lengthAdjust="spacingAndGlyphs">Rate)</text>
<text x="202.1" y="430.9" font-family="Liberation Sans, sans-serif" font-size="11.8" fill="#0a0a14" stroke="#0a0a14" stroke-width="0.25" textLength="29.5" lengthAdjust="spacingAndGlyphs">0Daily</text>
<text x="237.8" y="430.9" font-family="Liberation Sans, sans-serif" font-size="11.8" fill="#0a0a14" stroke="#0a0a14" stroke-width="0.25" textLength="104.9" lengthAdjust="spacingAndGlyphs">5NOV2010-4NOV2012</text>
<text x="358.1" y="430.9" font-family="Liberation Sans, sans-serif" font-size="11.8" fill="#0a0a14" stroke="#0a0a14" stroke-width="0.25" textLength="48.1" lengthAdjust="spacingAndGlyphs">Copyright</text>
<text x="417.9" y="430.9" font-family="Liberation Sans, sans-serif" font-size="11.8" fill="#0a0a14" stroke="#0a0a14" stroke-width="0.25" textLength="22.8" lengthAdjust="spacingAndGlyphs">2012</text>
<text x="446.1" y="430.9" font-family="Liberation Sans, sans-serif" font-size="11.8" fill="#0a0a14" stroke="#0a0a14" stroke-width="0.25" textLength="52.9" lengthAdjust="spacingAndGlyphs">Bloomberg</text>
<text x="504.1" y="430.9" font-family="Liberation Sans, sans-serif" font-size="11.8" fill="#0a0a14" stroke="#0a0a14" stroke-width="0.25" textLength="38" lengthAdjust="spacingAndGlyphs">Finance</text>
<text x="546.7" y="430.9" font-family="Liberation Sans, sans-serif" font-size="11.8" fill="#0a0a14" stroke="#0a0a14" stroke-width="0.25" textLength="18.4" lengthAdjust="spacingAndGlyphs">L.P.</text>
<text x="580.9" y="430.9" font-family="Liberation Sans, sans-serif" font-size="11.8" fill="#0a0a14" stroke="#0a0a14" stroke-width="0.25" textLength="66.3" lengthAdjust="spacingAndGlyphs">04-Nov-2012</text>
<text x="652.3" y="430.9" font-family="Liberation Sans, sans-serif" font-size="11.8" fill="#0a0a14" stroke="#0a0a14" stroke-width="0.25" textLength="46" lengthAdjust="spacingAndGlyphs">19:25:44</text>
<text x="406.6" y="430.3" font-family="Liberation Sans, sans-serif" font-size="8" fill="#0a0a14" stroke="#0a0a14" stroke-width="0" textLength="6.6" lengthAdjust="spacingAndGlyphs">©</text>
<path d="M649.2 96.4L657.3 88.8H700V104H657.3Z" fill="#0c0c44"/>
<text x="657.8" y="101.4" font-family="Liberation Sans, sans-serif" font-size="13.4" fill="#fff" stroke="#fff" stroke-width="0.2" textLength="37.8" lengthAdjust="spacingAndGlyphs">1.0748</text>
<path d="M649.2 86.9L657.3 79.3H700V94.5H657.3Z" fill="#000"/>
<text x="657.8" y="91.9" font-family="Liberation Sans, sans-serif" font-size="13.4" fill="#fff" stroke="#fff" stroke-width="0.2" textLength="37.8" lengthAdjust="spacingAndGlyphs">1.0872</text>
<rect x="393.2" y="276.6" width="254" height="94" rx="3" ry="3" fill="#f1f1f1" fill-opacity="0.8" stroke="#222" stroke-width="1.3"/>
<path d="M395.2 371.20000000000005H646.2" stroke="#222" stroke-width="1.2"/>
<g stroke="#222" stroke-width="1" fill="none" shape-rendering="crispEdges">
<rect x="401.5" y="288.5" width="6" height="6" fill="#f1f1f1"/>
<line x1="403" y1="291.5" x2="406" y2="291.5"/>
<line x1="404.5" y1="295" x2="404.5" y2="356.5"/>
<line x1="404.5" y1="308.5" x2="407.5" y2="308.5"/>
<line x1="404.5" y1="324.5" x2="407.5" y2="324.5"/>
<line x1="404.5" y1="340.5" x2="407.5" y2="340.5"/>
<line x1="404.5" y1="356.5" x2="407.5" y2="356.5"/>
</g>
<rect x="411" y="286.5" width="11.6" height="11.4" fill="#000"/>
<rect x="411" y="350.2" width="11.6" height="11.4" fill="#0c0c44"/>
<path d="M413 304.6H421.4M417.2 304.6V313.6" stroke="#111" stroke-width="1.5" fill="none"/>
<path d="M412 324.5H422.2" stroke="#111" stroke-width="1" fill="none"/><path d="M415.2 324.5L417.2 322.5L419.2 324.5L417.2 326.5Z" fill="#333" stroke="#111" stroke-width="0.6"/>
<path d="M417.2 336V345" stroke="#111" stroke-width="1.4" fill="none"/><path d="M412.8 346L417.2 342.2L421.6 346Z" fill="#111"/>
<text x="426" y="297.9" font-family="Liberation Sans, sans-serif" font-size="13.9" fill="#0a0a14" stroke="#0a0a14" stroke-width="0.25" textLength="44" lengthAdjust="spacingAndGlyphs">XAUXPT</text>
<text x="475.4" y="297.9" font-family="Liberation Sans, sans-serif" font-size="13.9" fill="#0a0a14" stroke="#0a0a14" stroke-width="0.25" textLength="39.6" lengthAdjust="spacingAndGlyphs">Curncy</text>
<text x="522" y="297.9" font-family="Liberation Sans, sans-serif" font-size="13.9" fill="#0a0a14" stroke="#0a0a14" stroke-width="0.25" textLength="4" lengthAdjust="spacingAndGlyphs">-</text>
<text x="533" y="297.9" font-family="Liberation Sans, sans-serif" font-size="13.9" fill="#0a0a14" stroke="#0a0a14" stroke-width="0.25" textLength="24.6" lengthAdjust="spacingAndGlyphs">Last</text>
<text x="563.6" y="297.9" font-family="Liberation Sans, sans-serif" font-size="13.9" fill="#0a0a14" stroke="#0a0a14" stroke-width="0.25" textLength="30.8" lengthAdjust="spacingAndGlyphs">Price</text>
<text x="601" y="297.9" font-family="Liberation Sans, sans-serif" font-size="13.9" fill="#0a0a14" stroke="#0a0a14" stroke-width="0.25" textLength="39" lengthAdjust="spacingAndGlyphs">1.0872</text>
<text x="426.6" y="313.9" font-family="Liberation Sans, sans-serif" font-size="13.9" fill="#0a0a14" stroke="#0a0a14" stroke-width="0.25" textLength="24.4" lengthAdjust="spacingAndGlyphs">High</text>
<text x="457.4" y="313.9" font-family="Liberation Sans, sans-serif" font-size="13.9" fill="#0a0a14" stroke="#0a0a14" stroke-width="0.25" textLength="14" lengthAdjust="spacingAndGlyphs">on</text>
<text x="476" y="313.9" font-family="Liberation Sans, sans-serif" font-size="13.9" fill="#0a0a14" stroke="#0a0a14" stroke-width="0.25" textLength="55.7" lengthAdjust="spacingAndGlyphs">08/13/12</text>
<text x="601" y="313.9" font-family="Liberation Sans, sans-serif" font-size="13.9" fill="#0a0a14" stroke="#0a0a14" stroke-width="0.25" textLength="39" lengthAdjust="spacingAndGlyphs">1.1631</text>
<text x="426.6" y="329.9" font-family="Liberation Sans, sans-serif" font-size="13.9" fill="#0a0a14" stroke="#0a0a14" stroke-width="0.25" textLength="46" lengthAdjust="spacingAndGlyphs">Average</text>
<text x="601" y="329.9" font-family="Liberation Sans, sans-serif" font-size="13.9" fill="#0a0a14" stroke="#0a0a14" stroke-width="0.25" textLength="39" lengthAdjust="spacingAndGlyphs">0.9787</text>
<text x="426.6" y="345.9" font-family="Liberation Sans, sans-serif" font-size="13.9" fill="#0a0a14" stroke="#0a0a14" stroke-width="0.25" textLength="20.8" lengthAdjust="spacingAndGlyphs">Low</text>
<text x="454" y="345.9" font-family="Liberation Sans, sans-serif" font-size="13.9" fill="#0a0a14" stroke="#0a0a14" stroke-width="0.25" textLength="14" lengthAdjust="spacingAndGlyphs">on</text>
<text x="473" y="345.9" font-family="Liberation Sans, sans-serif" font-size="13.9" fill="#0a0a14" stroke="#0a0a14" stroke-width="0.25" textLength="55.6" lengthAdjust="spacingAndGlyphs">02/03/11</text>
<text x="601" y="345.9" font-family="Liberation Sans, sans-serif" font-size="13.9" fill="#0a0a14" stroke="#0a0a14" stroke-width="0.25" textLength="39" lengthAdjust="spacingAndGlyphs">0.7248</text>
<text x="426.6" y="361.9" font-family="Liberation Sans, sans-serif" font-size="13.9" fill="#0a0a14" stroke="#0a0a14" stroke-width="0.25" textLength="36.8" lengthAdjust="spacingAndGlyphs">SMAVG</text>
<text x="470" y="361.9" font-family="Liberation Sans, sans-serif" font-size="13.9" fill="#0a0a14" stroke="#0a0a14" stroke-width="0.25" textLength="26" lengthAdjust="spacingAndGlyphs">(55)</text>
<text x="503" y="361.9" font-family="Liberation Sans, sans-serif" font-size="13.9" fill="#0a0a14" stroke="#0a0a14" stroke-width="0.25" textLength="13" lengthAdjust="spacingAndGlyphs">on</text>
<text x="520.3" y="361.9" font-family="Liberation Sans, sans-serif" font-size="13.9" fill="#0a0a14" stroke="#0a0a14" stroke-width="0.25" textLength="32.5" lengthAdjust="spacingAndGlyphs">Close</text>
<text x="601" y="361.9" font-family="Liberation Sans, sans-serif" font-size="13.9" fill="#0a0a14" stroke="#0a0a14" stroke-width="0.25" textLength="39" lengthAdjust="spacingAndGlyphs">1.0748</text>
</svg>
</body></html>
